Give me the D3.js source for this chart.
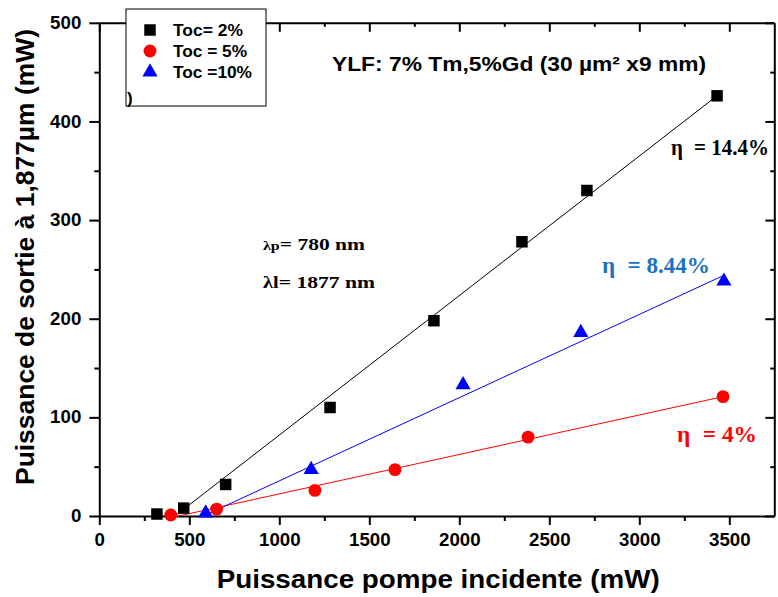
<!DOCTYPE html>
<html>
<head>
<meta charset="utf-8">
<script src="https://cdn.jsdelivr.net/npm/d3@7"></script>
<style>
  body { margin: 0; background: #fff; }
  svg { display: block; }
  .axis path, .axis line { stroke: #000; stroke-width: 2; }
  .axis text { font-family: Arial, "Liberation Sans", sans-serif; font-weight: bold; font-size: 17.5px; fill: #000; }
  .sans { font-family: Arial, "Liberation Sans", sans-serif; font-weight: bold; }
  .serif { font-family: "Times New Roman", "Liberation Serif", serif; font-weight: bold; }
</style>
</head>
<body>
<div id="chart"></div>
<script>
// series: pump power (mW) vs output power (mW)
const toc2X = [320, 469, 702, 1282, 1859, 2348, 2709, 3432];
const toc2Y = [2, 8, 32, 110, 198, 278, 330, 426];
const toc5X = [397, 652, 1198, 1643, 2382, 3465];
const toc5Y = [1, 7, 26, 47, 80, 121];
const toc10X = [591, 1177, 2021, 2675, 3470];
const toc10Y = [3, 47, 133, 186, 238];

// linear fits (end points)
const fit2X = [420, 3432], fit2Y = [0, 426];
const fit5X = [440, 3465], fit5Y = [0, 121];
const fit10X = [578, 3470], fit10Y = [0, 244];

const xTicks = [0, 500, 1000, 1500, 2000, 2500, 3000, 3500];
const xMinor = [250, 750, 1250, 1750, 2250, 2750, 3250];
const yTicks = [0, 100, 200, 300, 400, 500];
const yMinor = [50, 150, 250, 350, 450];

const legendLabels = ['Toc= 2%', 'Toc = 5%', 'Toc =10%'];

const width = 778, height = 597;
const xScale = d3.scaleLinear().domain([0, 3750]).range([99.3, 774.3]);
const yScale = d3.scaleLinear().domain([0, 500]).range([516, 22.8]);

const svg = d3.select('#chart').append('svg')
    .attr('width', width)
    .attr('height', height);

// minor ticks
svg.append('g').attr('class', 'axis')
    .attr('transform', `translate(0,${yScale(0)})`)
    .call(d3.axisBottom(xScale).tickValues(xMinor).tickSize(5).tickFormat(''))
    .select('.domain').remove();
svg.append('g').attr('class', 'axis')
    .attr('transform', `translate(${xScale(0)},0)`)
    .call(d3.axisLeft(yScale).tickValues(yMinor).tickSize(5).tickFormat(''))
    .select('.domain').remove();
svg.append('g').attr('class', 'axis')
    .attr('transform', `translate(0,${yScale(500)})`)
    .call(d3.axisTop(xScale).tickValues(xMinor).tickSize(-4).tickFormat(''))
    .select('.domain').remove();
svg.append('g').attr('class', 'axis')
    .attr('transform', `translate(${xScale(3750)},0)`)
    .call(d3.axisRight(yScale).tickValues(yMinor).tickSize(-4).tickFormat(''))
    .select('.domain').remove();

// major axes
const xAxis = svg.append('g').attr('class', 'axis')
    .attr('transform', `translate(0,${yScale(0)})`)
    .call(d3.axisBottom(xScale).tickValues(xTicks).tickSize(9).tickSizeOuter(0)
        .tickPadding(9).tickFormat(d3.format('d')));
xAxis.selectAll('text').attr('textLength', d => String(d).length * 10.4).attr('lengthAdjust', 'spacingAndGlyphs');

const yAxis = svg.append('g').attr('class', 'axis')
    .attr('transform', `translate(${xScale(0)},0)`)
    .call(d3.axisLeft(yScale).tickValues(yTicks).tickSize(10).tickSizeOuter(0)
        .tickPadding(8).tickFormat(d3.format('d')));
yAxis.selectAll('text').attr('textLength', d => String(d).length * 10.4).attr('lengthAdjust', 'spacingAndGlyphs');

svg.append('g').attr('class', 'axis')
    .attr('transform', `translate(0,${yScale(500)})`)
    .call(d3.axisTop(xScale).tickValues(xTicks).tickSize(-9).tickSizeOuter(0).tickFormat(''));
svg.append('g').attr('class', 'axis')
    .attr('transform', `translate(${xScale(3750)},0)`)
    .call(d3.axisRight(yScale).tickValues(yTicks).tickSize(-9).tickSizeOuter(0).tickFormat(''));

// fit lines
const line = d3.line().x(d => xScale(d[0])).y(d => yScale(d[1]));
const fits = [
    { x: fit2X, y: fit2Y, color: '#000' },
    { x: fit5X, y: fit5Y, color: '#ff0000' },
    { x: fit10X, y: fit10Y, color: '#0000ff' }
];
fits.forEach(f => {
    svg.append('path')
        .datum(d3.zip(f.x, f.y))
        .attr('d', line)
        .attr('fill', 'none')
        .attr('stroke', f.color)
        .attr('stroke-width', 1);
});

// markers
const series = [
    { x: toc2X, y: toc2Y, color: '#000', symbol: d3.symbolSquare, size: 132 },
    { x: toc5X, y: toc5Y, color: '#ff0000', symbol: d3.symbolCircle, size: 130 },
    { x: toc10X, y: toc10Y, color: '#0000ff', symbol: d3.symbolTriangle, size: 100 }
];
series.forEach(s => {
    svg.append('g').selectAll('path')
        .data(d3.zip(s.x, s.y))
        .enter()
        .append('path')
        .attr('transform', d => `translate(${xScale(d[0])},${yScale(d[1])})`)
        .attr('d', d3.symbol().type(s.symbol).size(s.size))
        .attr('fill', s.color);
});

// axis titles
svg.append('text')
    .attr('class', 'sans')
    .attr('x', 216.7)
    .attr('y', 588)
    .attr('font-size', 25)
    .attr('textLength', 443)
    .attr('lengthAdjust', 'spacingAndGlyphs')
    .text('Puissance pompe incidente (mW)');

svg.append('text')
    .attr('class', 'sans')
    .attr('transform', 'translate(34,485) rotate(-90)')
    .attr('font-size', 25)
    .attr('textLength', 456)
    .attr('lengthAdjust', 'spacingAndGlyphs')
    .text('Puissance de sortie à 1,877µm (mW)');

// title
svg.append('text')
    .attr('class', 'sans')
    .attr('x', 332)
    .attr('y', 71)
    .attr('font-size', 20.5)
    .attr('textLength', 374)
    .attr('lengthAdjust', 'spacingAndGlyphs')
    .text('YLF: 7% Tm,5%Gd (30 µm² x9 mm)');

// wavelength notes
const lp = svg.append('text').attr('class', 'serif')
    .attr('x', 263).attr('y', 250)
    .attr('textLength', 102).attr('lengthAdjust', 'spacingAndGlyphs');
lp.append('tspan').attr('font-size', 13).text('λp');
lp.append('tspan').attr('font-size', 17.5).text('= 780 nm');

const ll = svg.append('text').attr('class', 'serif')
    .attr('x', 263).attr('y', 288)
    .attr('textLength', 112).attr('lengthAdjust', 'spacingAndGlyphs');
ll.append('tspan').attr('font-size', 16.5).text('λl');
ll.append('tspan').attr('font-size', 17.5).text('= 1877 nm');

// efficiencies
const etas = [
    { x: 671, y: 155, label: '= 14.4%', color: '#000', len: 98 },
    { x: 602, y: 273, label: '= 8.44%', color: '#1a73c2', len: 108 },
    { x: 677, y: 442, label: '= 4%', color: '#ff0000', len: 80 }
];
etas.forEach(e => {
    const t = svg.append('text').attr('class', 'serif')
        .attr('x', e.x).attr('y', e.y)
        .attr('font-size', 22.5)
        .attr('textLength', e.len)
        .attr('lengthAdjust', 'spacingAndGlyphs')
        .attr('fill', e.color);
    t.append('tspan').text('η');
    t.append('tspan').attr('dx', 12).text(e.label);
});

// legend
const legend = svg.append('g');
legend.append('rect')
    .attr('x', 126).attr('y', 9)
    .attr('width', 140).attr('height', 97)
    .attr('fill', '#fff')
    .attr('stroke', '#000')
    .attr('stroke-width', 1);
const legendY = [30, 51, 72];
const legendW = [70, 74, 79];
series.forEach((s, i) => {
    legend.append('path')
        .attr('transform', `translate(150,${legendY[i]})`)
        .attr('d', d3.symbol().type(s.symbol).size(s.size))
        .attr('fill', s.color);
    legend.append('text')
        .attr('class', 'sans')
        .attr('x', 173).attr('y', legendY[i] + 6)
        .attr('font-size', 17)
        .attr('textLength', legendW[i])
        .attr('lengthAdjust', 'spacingAndGlyphs')
        .text(legendLabels[i]);
});
legend.append('text')
    .attr('class', 'sans')
    .attr('x', 127).attr('y', 104)
    .attr('font-size', 17)
    .text(')');
</script>
</body>
</html>
